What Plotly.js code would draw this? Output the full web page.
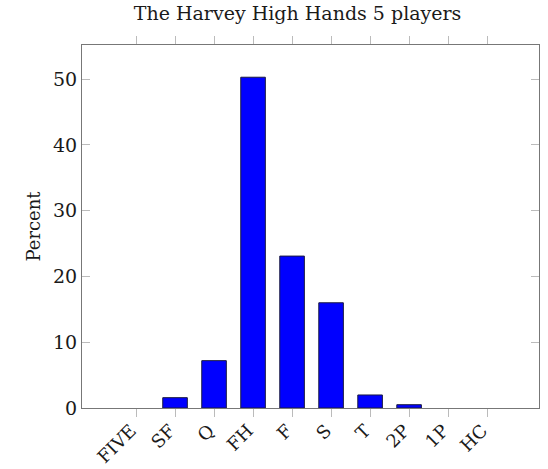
<!DOCTYPE html>
<html>
<head>
<meta charset="utf-8">
<script src="https://cdn.plot.ly/plotly-3.0.1.min.js"></script>
<style>html,body{margin:0;padding:0;background:#fff;}#chart{width:548px;height:469px;}</style>
</head>
<body>
<div id="chart"></div>
<script>
const hands = ["FIVE", "SF", "Q", "FH", "F", "S", "T", "2P", "1P", "HC"];
const percent = [0, 1.57, 7.2, 50.3, 23.1, 16.0, 1.98, 0.5, 0, 0];
const chartTitle = "The Harvey High Hands 5 players";
const yLabel = "Percent";
const yTicks = [0, 10, 20, 30, 40, 50];

const font = "DejaVu Serif, Liberation Serif, serif";

Plotly.newPlot("chart", [{
  type: "bar",
  x: hands,
  y: percent,
  width: 0.63,
  marker: {color: "#0000ff", line: {color: "#1a1a40", width: percent.map(v => v > 0 ? 1 : 0)}},
  hoverinfo: "skip"
}], {
  width: 548, height: 469,
  margin: {l: 82, r: 9, t: 45, b: 61},
  paper_bgcolor: "#fff", plot_bgcolor: "#fff",
  showlegend: false,
  title: {text: chartTitle, x: 0.543, xanchor: "center", y: 0.985, yanchor: "top",
          font: {family: font, size: 19, color: "#1a1a1a"}},
  xaxis: {
    type: "category", range: [-1.385, 10.33],
    showgrid: false, zeroline: false,
    showline: true, linecolor: "#777", linewidth: 1, mirror: "ticks",
    ticks: "outside", ticklen: 8, tickcolor: "#bbb", tickwidth: 1,
    tickangle: -45, ticklabelshift: -5, ticklabelstandoff: -4,
    tickfont: {family: font, size: 18, color: "#1a1a1a"}
  },
  yaxis: {
    range: [0, 55.2], tickvals: yTicks,
    showgrid: false, zeroline: false,
    showline: true, linecolor: "#777", linewidth: 1, mirror: "ticks",
    ticks: "inside", ticklen: 8, tickcolor: "#bbb", tickwidth: 1,
    tickfont: {family: font, size: 19, color: "#1a1a1a"},
    title: {text: yLabel, font: {family: font, size: 18, color: "#1a1a1a"}, standoff: 7}
  }
}, {staticPlot: true, displayModeBar: false});
</script>
</body>
</html>
